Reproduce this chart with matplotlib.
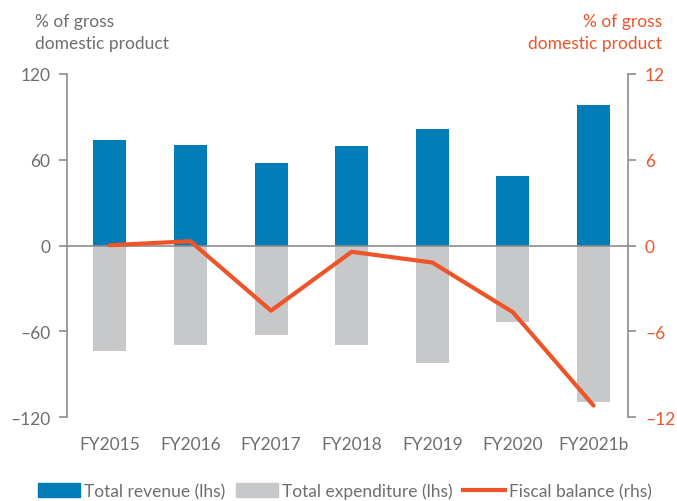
import matplotlib
matplotlib.use("Agg")
import matplotlib.pyplot as plt
from matplotlib.patches import Patch
from matplotlib.lines import Line2D
import numpy as np

plt.rcParams['font.family'] = ['Lato', 'DejaVu Sans']

years = ["FY2015", "FY2016", "FY2017", "FY2018", "FY2019", "FY2020", "FY2021b"]
revenue = [73.9, 70.0, 57.9, 69.3, 81.4, 48.4, 98.4]
expenditure = [-73.7, -69.5, -62.6, -69.5, -82.3, -53.3, -109.3]
fiscal_balance = [0.02, 0.3, -4.56, -0.44, -1.19, -4.67, -11.2]

lhs_ticks = [-120, -60, 0, 60, 120]
rhs_ticks = [-12, -6, 0, 6, 12]

BLUE = "#007DB7"
GREY_BAR = "#C7C8CA"
ORANGE = "#EE5428"
AXIS_GREY = "#8C8C8C"
TEXT_GREY = "#6D6E71"

fig = plt.figure(figsize=(6.77, 5.02), dpi=100)
ax = fig.add_axes([0.099, 0.1673, 0.829, 0.6833])
ax2 = ax.twinx()

x = np.arange(len(years))
w = 0.41
ax.bar(x, revenue, width=w, color=BLUE, zorder=2)
ax.bar(x, expenditure, width=w, color=GREY_BAR, zorder=2)
ax.axhline(0, color=AXIS_GREY, lw=1.2, zorder=3)

ax2.plot(x, fiscal_balance, color=ORANGE, lw=3, solid_capstyle='round', zorder=4)

ax.set_xlim(-0.53, 6.43)
ax.set_ylim(-120, 120)
ax2.set_ylim(-12, 12)

ax.set_yticks(lhs_ticks)
ax.set_yticklabels([str(t).replace('-', '\u2013') for t in lhs_ticks])
ax2.set_yticks(rhs_ticks)
ax2.set_yticklabels([str(t).replace('-', '\u2013') for t in rhs_ticks])

ax.set_xticks(x)
ax.set_xticklabels(years)

for a in (ax, ax2):
    for s in ('top', 'bottom'):
        a.spines[s].set_visible(False)
ax.spines['right'].set_visible(False)
ax2.spines['left'].set_visible(False)
ax.spines['left'].set_color(AXIS_GREY)
ax2.spines['right'].set_color(AXIS_GREY)
ax.spines['left'].set_linewidth(1.2)
ax2.spines['right'].set_linewidth(1.2)

ax.tick_params(axis='y', direction='out', length=6, width=1.2, color=AXIS_GREY,
               labelcolor=TEXT_GREY, labelsize=12.5, pad=6)
ax2.tick_params(axis='y', direction='out', length=6, width=1.2, color=AXIS_GREY,
                labelcolor=ORANGE, labelsize=12.5, pad=6)
ax.tick_params(axis='x', length=0, labelcolor=TEXT_GREY, labelsize=12.5, pad=14)

fig.text(35 / 677, 1 - 14 / 502, "% of gross\ndomestic product", ha='left', va='top',
         fontsize=12.5, color=TEXT_GREY, linespacing=1.5)
fig.text(662 / 677, 1 - 14 / 502, "% of gross\ndomestic product", ha='right', va='top',
         fontsize=12.5, color=ORANGE, linespacing=1.5, multialignment='right')

handles = [Patch(color=BLUE), Patch(color=GREY_BAR), Line2D([0], [0], color=ORANGE, lw=3)]
labels = ["Total revenue (lhs)", "Total expenditure (lhs)", "Fiscal balance (rhs)"]
leg = fig.legend(handles, labels, loc='center', bbox_to_anchor=(345 / 677, 1 - 492 / 502),
                 ncol=3, frameon=False, fontsize=12.5, handlelength=2.4, handleheight=0.9,
                 handletextpad=0.25, columnspacing=0.6, borderaxespad=0)
for t in leg.get_texts():
    t.set_color(TEXT_GREY)

fig.savefig("out.png", dpi=100)
